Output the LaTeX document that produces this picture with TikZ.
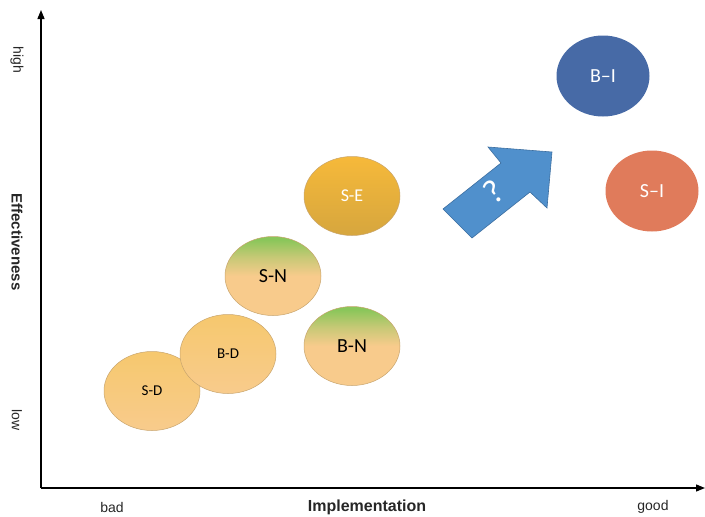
\documentclass[tikz,border=0pt]{standalone}
\usepackage{fontspec}
\setmainfont{Liberation Sans}
\newfontfamily\calib{Carlito}
\usetikzlibrary{shapes.geometric,arrows.meta}
\definecolor{biblue}{RGB}{71,106,166}
\definecolor{sired}{RGB}{224,123,91}
\definecolor{segoldt}{RGB}{246,185,58}
\definecolor{segoldb}{RGB}{214,166,62}
\definecolor{pastort}{RGB}{246,200,110}
\definecolor{pastorb}{RGB}{248,203,140}
\definecolor{leafg}{RGB}{138,198,90}
\definecolor{arrblue}{RGB}{80,144,204}
\definecolor{arredge}{RGB}{60,110,160}
\definecolor{rimc}{RGB}{200,165,110}
\pgfdeclareverticalshading{greenfade}{100bp}{color(0bp)=(pastorb); color(25bp)=(pastorb); color(50bp)=(pastorb); color(62bp)=(pastorb!55!leafg); color(73bp)=(leafg); color(100bp)=(leafg)}
\tikzset{
  blob/.style={ellipse, inner sep=0pt, minimum width=96pt, minimum height=79pt, draw=rimc, line width=0.5pt},
  darkblob/.style={ellipse, inner sep=0pt, minimum width=93pt, minimum height=81pt, draw=none, text=white, font=\calib\fontsize{20}{24}\selectfont},
  paleblob/.style={blob, top color=pastort, bottom color=pastorb},
  greenblob/.style={blob, shading=greenfade},
  axislab/.style={font=\fontsize{14}{16}\selectfont, text=black!85},
  axistitle/.style={font=\bfseries\fontsize{15}{17}\selectfont, text=black!85},
}
\begin{document}
\begin{tikzpicture}[x=1pt,y=-1pt]
\useasboundingbox (0,0) rectangle (705,517);
% axes
\coordinate (origin) at (41,488);
\coordinate (ytop) at (41,10);
\coordinate (xend) at (705,488);
\draw[line width=1.3pt, -{Triangle[length=9pt,width=7pt]}] (origin) -- (ytop);
\draw[line width=1.3pt, -{Triangle[length=9pt,width=7pt]}] (origin) -- (xend);
% axis labels
\node[axislab, rotate=-90] (high) at (17,60) {high};
\node[axistitle, rotate=-90] (eff) at (17,242) {Effectiveness};
\node[axislab, rotate=-90] (low) at (17,420) {low};
\node[axislab] (bad) at (112,507) {bad};
\node[axistitle, font=\bfseries\fontsize{16}{18}\selectfont] (impl) at (367,507) {Implementation};
\node[axislab] (good) at (653,507) {good};
% ellipses
\node[paleblob, font=\calib\fontsize{15}{18}\selectfont] (sd) at (152,391) {S-D};
\node[paleblob, font=\calib\fontsize{15}{18}\selectfont] (bd) at (228,354) {B-D};
\node[greenblob, font=\calib\fontsize{20}{24}\selectfont] (sn) at (273,276) {S-N};
\node[greenblob, font=\calib\fontsize{20}{24}\selectfont] (bn) at (352,346) {B-N};
\node[blob, top color=segoldt, bottom color=segoldb, text=white, font=\calib\fontsize{18}{22}\selectfont] (se) at (352,196) {S-E};
\node[darkblob, fill=biblue] (bi) at (603,76) {B–I};
\node[darkblob, fill=sired] (si) at (652,191) {S–I};
% block arrow
\draw[fill=arrblue, draw=arredge, line width=0.6pt]
  (443,209) -- (501,163) -- (488,147) -- (552,152) -- (547,208) -- (530,192) -- (472,238) -- cycle;
\node[text=white, rotate=38, font=\calib\fontsize{34}{38}\selectfont] (q) at (494,192) {?};
\end{tikzpicture}
\end{document}
